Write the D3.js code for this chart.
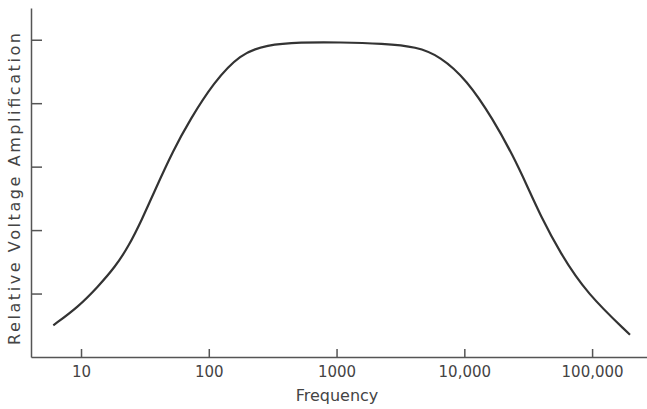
<!DOCTYPE html>
<html lang="en">
<head>
  <meta charset="UTF-8">
  <title>Frequency response</title>
  <script src="https://cdn.jsdelivr.net/npm/d3@7/dist/d3.min.js"></script>
  <style>
    body { margin: 0; background: #fff; }
    .axis path, .axis line {
      fill: none;
      stroke: #555;
      stroke-width: 1.5;
    }
    .axis text {
      font-family: "DejaVu Sans", sans-serif;
      font-size: 15px;
      fill: #444;
    }
    .label {
      font-family: "DejaVu Sans", sans-serif;
      font-size: 16px;
      fill: #444;
    }
  </style>
</head>
<body>
<script>
// curve
var frequency = [6.07, 9.52, 13.6, 18.5, 23.5, 29.9, 37.9, 52.8, 71.3, 108.6, 176, 284, 518, 1065,
                 2310, 4245, 6457, 10450, 16870, 24200, 30800, 39200, 56200, 90800, 198000];
var amplification = [0.50, 0.79, 1.11, 1.42, 1.74, 2.16, 2.63, 3.26, 3.74, 4.32, 4.78, 4.92, 4.96, 4.96,
                     4.94, 4.89, 4.74, 4.37, 3.74, 3.16, 2.71, 2.24, 1.64, 1.00, 0.35];

var xTicks = [10, 100, 1000, 10000, 100000];
var xTickLabels = ["10", "100", "1000", "10,000", "100,000"];
var yTicks = [1, 2, 3, 4, 5];

var w = 647, h = 409;
var padLeft = 31, padBottom = 357, padTop = 8, padRight = 647;

var svg = d3.select("body")
  .append("svg")
  .attr("width", w)
  .attr("height", h);

var xScale = d3.scaleLog()
  .domain([4.06, 269000])
  .range([padLeft, padRight]);

var yScale = d3.scaleLinear()
  .domain([0, 5.5])
  .range([padBottom, padTop]);

var xAxis = d3.axisTop(xScale)
  .tickValues(xTicks)
  .tickFormat((d, i) => xTickLabels[i])
  .tickSize(8)
  .tickSizeOuter(0);

var gx = svg.append("g")
  .attr("class", "axis")
  .attr("transform", `translate(0,${padBottom})`)
  .call(xAxis);
// labels go below the line, ticks stay above
gx.selectAll(".tick text").attr("y", 9).attr("dy", "0.71em");

var yAxis = d3.axisRight(yScale)
  .tickValues(yTicks)
  .tickFormat("")
  .tickSize(11)
  .tickSizeOuter(0);

svg.append("g")
  .attr("class", "axis")
  .attr("transform", `translate(${padLeft},0)`)
  .call(yAxis);

var line = d3.line()
  .x((d, i) => xScale(frequency[i]))
  .y(d => yScale(d))
  .curve(d3.curveBasis);

svg.append("path")
  .datum(amplification)
  .attr("fill", "none")
  .attr("stroke", "#333")
  .attr("stroke-width", 2.2)
  .attr("d", line);

svg.append("text")
  .attr("class", "label")
  .attr("x", 337)
  .attr("y", 401)
  .attr("text-anchor", "middle")
  .text("Frequency");

svg.append("text")
  .attr("class", "label")
  .attr("transform", "translate(20,189) rotate(-90)")
  .attr("text-anchor", "middle")
  .attr("textLength", 312)
  .text("Relative Voltage Amplification");
</script>
</body>
</html>
